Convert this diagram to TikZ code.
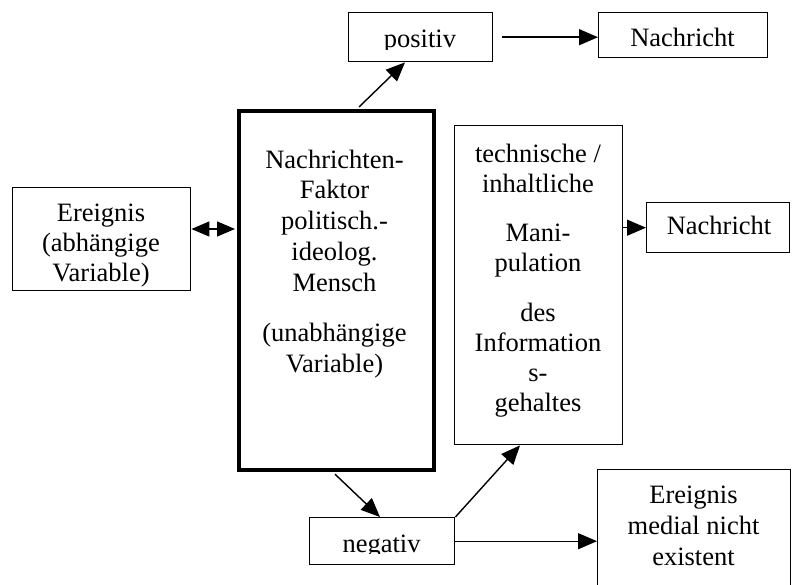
\documentclass[tikz,border=0pt]{standalone}
\usepackage{fontspec}
\setmainfont{Liberation Serif}
\usetikzlibrary{arrows.meta,calc}
\begin{document}
\begin{tikzpicture}[x=1pt,y=-1pt,
  box/.style={draw, line width=1.4pt, inner sep=0pt, anchor=north west},
  thickbox/.style={box, line width=4.2pt},
  lbl/.style={align=center, inner sep=0pt, anchor=base, font=\fontsize{26.5}{30}\selectfont},
  tip/.style={line width=1.4pt, -{Triangle[length=19pt,width=16pt]}},
  bothtips/.style={line width=1.4pt, {Triangle[length=18pt,width=15pt]}-{Triangle[length=18pt,width=15pt]}},
]
\clip (0,0) rectangle (793,585);
\fill[white] (0,0) rectangle (793,585);

% boxes
\node[box, minimum width=178pt, minimum height=103pt] (ev) at (12,187) {};
\node[thickbox, minimum width=195pt, minimum height=359pt] (fac) at (237,109) {};
\node[box, minimum width=144pt, minimum height=49pt] (pos) at (348,12) {};
\node[box, minimum width=169pt, minimum height=45pt] (msgA) at (598,12) {};
\node[box, minimum width=168pt, minimum height=319pt] (man) at (454,125) {};
\node[box, minimum width=143pt, minimum height=50pt] (msgB) at (646,202) {};
\node[box, minimum width=145pt, minimum height=47pt] (neg) at (309,517) {};
\node[box, minimum width=193pt, minimum height=150pt] (none) at (597,469) {};

% labels (a multi-line label sits on the baseline of its last line)
\node[lbl] (evT) at (101,282) {Ereignis\\(abhängige\\Variable)};
\node[lbl, font=\fontsize{26.5}{31}\selectfont] (facT) at (334.5,373)
  {Nachrichten-\\Faktor\\politisch.-\\ideolog.\\Mensch\\[19pt](unabhängige\\Variable)};
\node[lbl] (manT) at (538,412)
  {technische /\\inhaltliche\\[19pt]Mani-\\pulation\\[21pt]des\\Information\\s-\\gehaltes};
\node[lbl] (msgAT) at (682.5,47) {Nachricht};
\node[lbl] (msgBT) at (719,235) {Nachricht};
\node[lbl, font=\fontsize{26.5}{31}\selectfont] (noneT) at (693.5,565)
  {Ereignis\\medial nicht\\existent};
\begin{scope}
  \clip (348,12) rectangle (492,49.5);
  \node[lbl] (posT) at (420,48) {positiv};
\end{scope}
\begin{scope}
  \clip (309,517) rectangle (454,553.5);
  \node[lbl] (negT) at (381.5,552) {negativ};
\end{scope}

% connectors
\coordinate (lvl) at (0,229);
\draw[bothtips, shorten >=2pt] (ev.east |- lvl) -- (fac.west |- lvl);
\draw[tip] ([xshift=122pt,yshift=2pt]fac.north west) -- ([xshift=57pt]pos.south west);
\draw[tip] ([xshift=9pt]pos.east) -- (pos.east -| msgA.west);
\draw[tip] (man.east |- msgB.west) -- (msgB.west);
\draw[tip] ([xshift=98pt,yshift=-2pt]fac.south west) -- ([xshift=71pt]neg.north west);
\draw[tip] (neg.north east) -- ([xshift=66pt]man.south west);
\draw[tip] (neg.east) -- (neg.east -| none.west);
\end{tikzpicture}
\end{document}
